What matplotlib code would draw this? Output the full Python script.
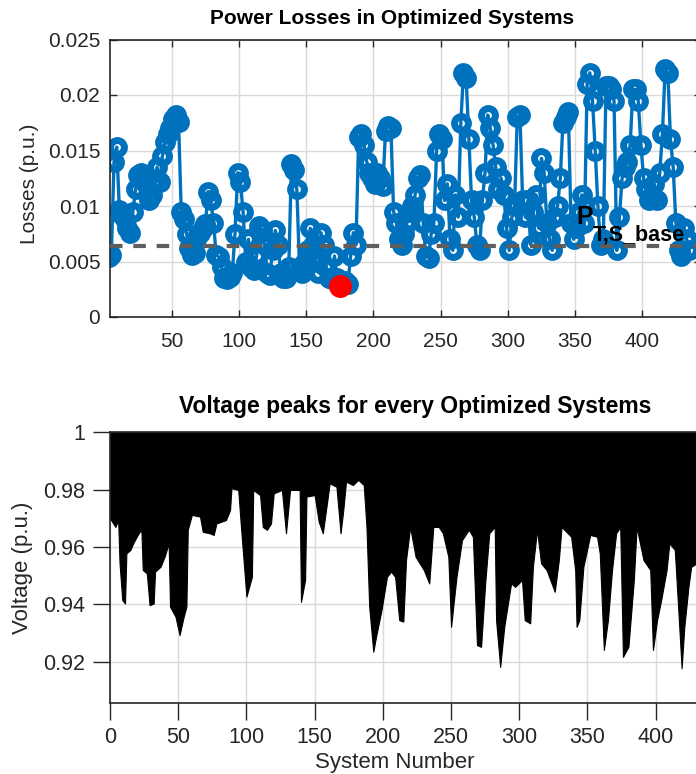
import numpy as np
import matplotlib
matplotlib.use("Agg")
import matplotlib.pyplot as plt

plt.rcParams['font.family'] = ['Liberation Sans', 'DejaVu Sans']

# ---- top panel data: power losses (p.u.), every second system ----
loss_systems = np.arange(1, 436, 2)
losses = np.array([
    5.5, 5.4, 5.6, 14.0, 15.3, 9.6, 9.2, 8.8, 8.0, 7.6,
    9.5, 11.5, 12.8, 13.0, 12.5, 12.0, 10.5, 11.0, 12.0, 13.5,
    12.2, 14.5, 15.8, 16.5, 17.0, 17.8, 18.2, 17.6, 9.5, 8.8,
    7.5, 6.2, 5.6, 5.8, 7.2, 7.6, 8.0, 8.4, 11.3, 10.5,
    8.5, 5.6, 5.4, 4.5, 3.5, 3.4, 3.6, 4.0, 7.5, 13.0,
    12.2, 9.5, 5.0, 7.0, 4.5, 4.2, 5.5, 8.2, 7.8, 6.5,
    4.0, 3.8, 6.0, 7.8, 6.5, 4.0, 3.5, 3.5, 4.5, 13.8,
    13.2, 11.5, 4.5, 4.0, 5.0, 6.0, 8.0, 6.5, 5.0, 4.0,
    7.6, 6.5, 4.5, 3.5, 3.4, 5.5, 3.5, 2.8, 3.0, 3.2,
    3.0, 5.5, 7.6, 6.5, 16.2, 16.5, 15.5, 14.0, 13.0, 12.5,
    12.0, 13.0, 12.5, 11.8, 16.8, 17.2, 17.0, 9.5, 8.5, 7.0,
    6.5, 7.5, 8.5, 9.5, 10.0, 11.0, 12.5, 12.8, 8.5, 5.5,
    5.3, 7.5, 8.5, 15.0, 16.5, 16.0, 10.5, 12.0, 7.0, 6.0,
    11.0, 9.0, 17.5, 22.0, 21.5, 16.0, 10.5, 9.0, 6.5, 6.0,
    10.5, 13.0, 18.2, 17.0, 15.5, 13.5, 11.5, 12.5, 11.0, 8.0,
    6.0, 9.0, 10.0, 18.0, 18.2, 10.5, 9.0, 10.5, 6.5, 9.5,
    11.0, 8.0, 14.3, 13.0, 8.5, 7.0, 6.0, 9.0, 10.0, 12.5,
    17.5, 18.0, 18.5, 8.5, 7.0, 8.0, 9.5, 11.0, 8.5, 21.0,
    22.0, 19.5, 15.0, 10.0, 6.5, 7.0, 20.8, 20.8, 20.5, 19.5,
    6.0, 9.0, 12.5, 13.5, 14.0, 15.5, 20.5, 20.5, 19.5, 15.5,
    12.5, 11.5, 10.5, 11.0, 12.0, 10.5, 13.0, 16.5, 22.3, 22.0,
    16.0, 13.5, 8.5, 6.0, 5.5, 8.0, 7.0, 6.0,
]) / 1000.0

base_loss = 0.0064
best_system = 175
best_loss = 0.0028

# ---- bottom panel data: lowest bus voltage of every system (p.u.) ----
volt_systems = [
    0, 4, 6, 7, 9, 11, 12, 15, 17, 21, 23, 24, 27, 29, 32, 33, 37, 40, 43, 44,
    48, 51, 54, 56, 57, 60, 66, 68, 73, 76, 78, 85, 88, 89, 94, 96, 100, 104, 105, 110,
    112, 115, 118, 120, 126, 129, 132, 139, 140, 143, 144, 150, 153, 156, 159, 161, 166, 169, 171, 173,
    178, 182, 186, 188, 190, 193, 195, 199, 203, 206, 209, 212, 215, 217, 220, 224, 230, 234, 237, 241,
    244, 248, 250, 254, 258, 263, 266, 269, 272, 275, 278, 282, 283, 286, 289, 294, 297, 302, 304, 308,
    310, 313, 316, 320, 326, 329, 331, 338, 341, 342, 344, 347, 352, 357, 359, 362, 365, 368, 371, 374,
    376, 380, 384, 386, 391, 396, 398, 401, 404, 408, 410, 414, 417, 419, 421, 424, 426, 430, 436,
]
volt_min = [
    0.970, 0.967, 0.9694, 0.9543, 0.9415, 0.9403, 0.9578, 0.959, 0.9613, 0.9648,
    0.966, 0.952, 0.9508, 0.9397, 0.9403, 0.9514, 0.9531, 0.9566, 0.9613, 0.9392,
    0.9357, 0.9293, 0.9357, 0.9392, 0.966, 0.9712, 0.9706, 0.9653, 0.9648, 0.9642,
    0.9682, 0.9694, 0.9729, 0.9805, 0.9799, 0.967, 0.9427, 0.9496, 0.9799, 0.9781,
    0.967, 0.966, 0.9682, 0.9787, 0.9799, 0.9648, 0.9799, 0.9799, 0.9409, 0.9485,
    0.9776, 0.9781, 0.9688, 0.9648, 0.9752, 0.9822, 0.981, 0.9648, 0.9729, 0.9828,
    0.9816, 0.9834, 0.9816, 0.967, 0.9392, 0.9235, 0.9287, 0.938, 0.9496, 0.9514,
    0.9496, 0.9345, 0.934, 0.9555, 0.967, 0.9566, 0.952, 0.9473, 0.967, 0.967,
    0.9648, 0.9566, 0.9322, 0.9496, 0.9624, 0.966, 0.9636, 0.9258, 0.9252, 0.9473,
    0.9648, 0.967, 0.9345, 0.9182, 0.9322, 0.9473, 0.9461, 0.9485, 0.9345, 0.9334,
    0.9531, 0.966, 0.9543, 0.952, 0.9444, 0.9555, 0.967, 0.9636, 0.952, 0.9322,
    0.9345, 0.9531, 0.9642, 0.9636, 0.9578, 0.9241, 0.9345, 0.952, 0.9648, 0.967,
    0.9217, 0.9252, 0.9485, 0.967, 0.9555, 0.952, 0.9241, 0.9345, 0.9415, 0.952,
    0.9613, 0.959, 0.9345, 0.9177, 0.9322, 0.9461, 0.9531, 0.9543, 0.955,
]

W, H = 696, 774
fig = plt.figure(figsize=(W / 100, H / 100), dpi=100)

axis_col = '#262626'
grid_col = '#dadada'

# ---------------- top: power losses ----------------
ax1 = fig.add_axes([110 / W, 1 - 317 / H, 591.4 / W, 277.5 / H])
ax1.set_axisbelow(True)
ax1.grid(True, color=grid_col, linewidth=1.0)
ax1.plot(loss_systems, losses, color='#0072BD', linewidth=2.4, marker='o',
         markersize=10, markeredgewidth=5.0, markerfacecolor='none', zorder=2)
ax1.axhline(base_loss, color='#5e5e5e', linewidth=3.0, dashes=(3, 2.6), zorder=3)
ax1.plot([best_system], [best_loss], 'o', color='red', markersize=15.5, zorder=4)
ax1.text(351, 0.0090, 'P', fontsize=18, fontweight='bold', ha='left', va='center', zorder=5)
ax1.text(363.5, 0.0074, 'T,S_base', fontsize=15.5, fontweight='bold', ha='left', va='center', zorder=5)

ax1.set_xlim(4, 444)
ax1.set_ylim(0, 0.025)
ax1.set_xticks(range(50, 401, 50))
ax1.set_yticks([0, 0.005, 0.01, 0.015, 0.02, 0.025])
ax1.set_yticklabels(['0', '0.005', '0.01', '0.015', '0.02', '0.025'])
ax1.tick_params(direction='in', length=5, width=1.0, colors=axis_col, labelsize=15,
                top=True, right=True)
ax1.tick_params(axis='x', pad=11)
ax1.tick_params(axis='y', pad=7)
for sp in ax1.spines.values():
    sp.set_color(axis_col)
    sp.set_linewidth(1.2)
ax1.set_ylabel('Losses (p.u.)', fontsize=15, color=axis_col)
ax1.yaxis.set_label_coords(-0.12, 0.48)
fig.text(392 / W, 1 - 18 / H, 'Power Losses in Optimized Systems', fontsize=15,
         fontweight='bold', ha='center', va='center')

# ---------------- bottom: voltage peaks ----------------
ax2 = fig.add_axes([110 / W, 1 - 703.3 / H, 594.8 / W, 271 / H])
ax2.set_axisbelow(True)
ax2.grid(True, color=grid_col, linewidth=1.0)
ax2.fill_between(volt_systems, volt_min, 1.0, color='black', linewidth=0.8, zorder=2)

ax2.set_xlim(0, 436)
ax2.set_ylim(0.9055, 1.0)
ax2.set_xticks(range(0, 401, 50))
ax2.set_yticks([0.92, 0.94, 0.96, 0.98, 1.0])
ax2.set_yticklabels(['0.92', '0.94', '0.96', '0.98', '1'])
ax2.tick_params(direction='out', length=12, width=1.0, colors=axis_col, labelsize=15.5, pad=6)
ax2.tick_params(axis='x', pad=5)
for sp in ax2.spines.values():
    sp.set_color(axis_col)
    sp.set_linewidth(1.2)
ax2.set_ylabel('Voltage (p.u.)', fontsize=16, color=axis_col)
ax2.yaxis.set_label_coords(-0.129, 0.5)
ax2.set_xlabel('System Number', fontsize=16, color=axis_col)
ax2.xaxis.set_label_coords((395 - 110) / 594.8, -0.18)
fig.text(415 / W, 1 - 407 / H, 'Voltage peaks for every Optimized Systems', fontsize=16.5,
         fontweight='bold', ha='center', va='center')

fig.savefig('out.png', dpi=100)
